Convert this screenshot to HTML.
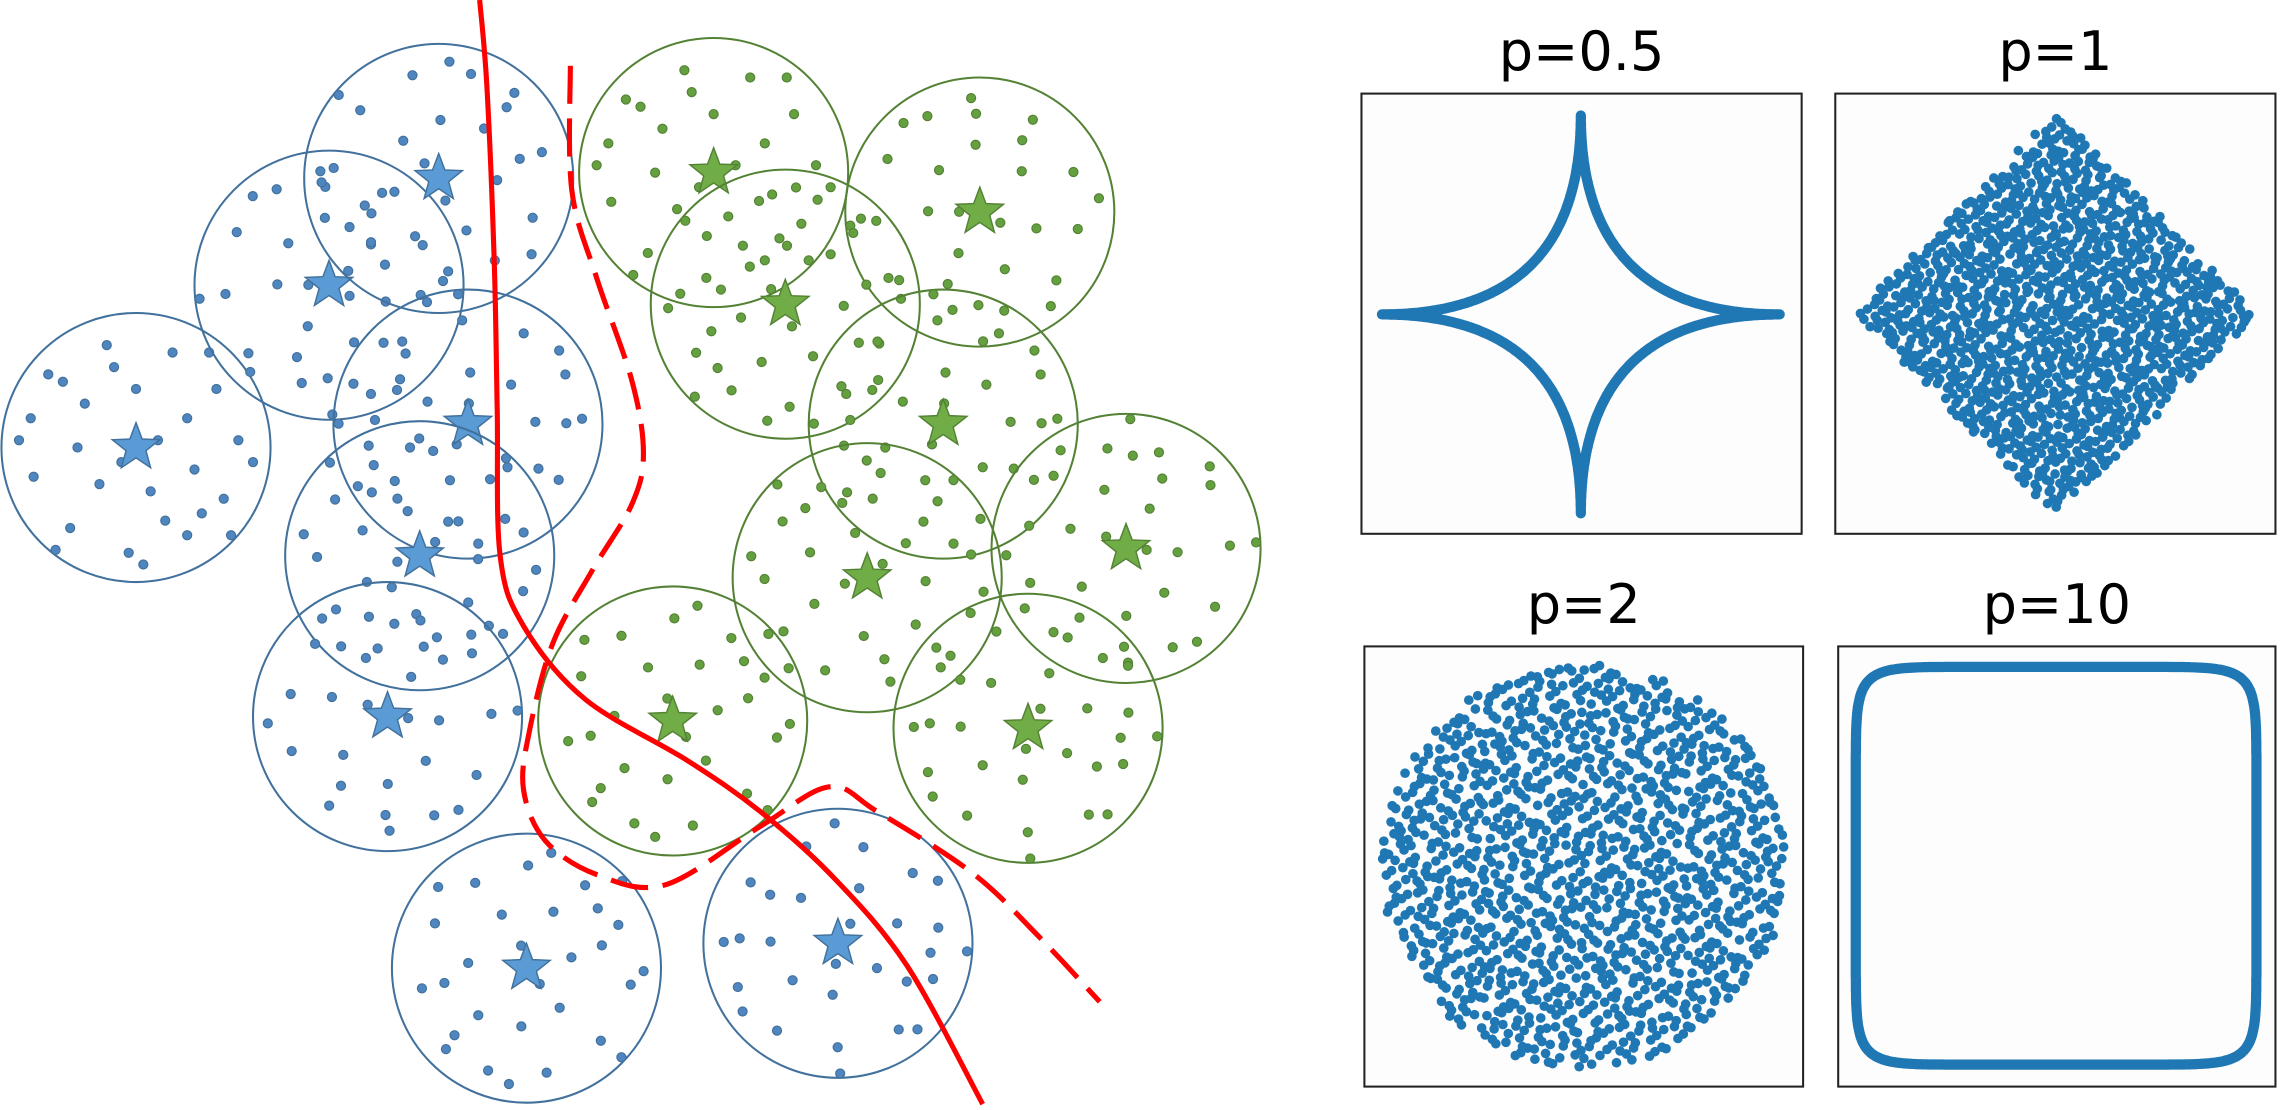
<!DOCTYPE html>
<html><head><meta charset="utf-8"><style>
html,body{margin:0;padding:0;background:#fff;}
svg{display:block;}
text{font-family:"DejaVu Sans","Liberation Sans",sans-serif;}
</style></head><body>
<svg id="fig" width="2293" height="1110" viewBox="0 0 1568 759" preserveAspectRatio="none" xmlns="http://www.w3.org/2000/svg">
<g id="left"></g>
<g id="right"></g>
</svg>
<script>
const blueCenters=[[93,306],[225,195],[300,122],[320,290],[287,380],[265,490],[360,662],[573,645]];
const greenCenters=[[488,118],[670,145],[537,208],[645,290],[593,395],[770,375],[460,493],[703,498]];
const radius=92;
const dotOffsets=[[-60,-50],[-20,-70],[25,-65],[55,-40],[70,-5],[60,35],[35,60],[-5,72],[-45,55],[-70,20],[-72,-20],[-35,-30],[0,-40],[35,-20],[40,15],[10,30],[-25,25],[-40,0],[15,-5],[-10,10],[50,-65],[-55,70],[65,60],[-80,-5],[80,10],[20,50],[-15,-55],[45,45],[-50,-45],[5,80]];
const solidPath=[[328,0],[333,60],[338,180],[340,280],[342,380],[358,428],[400,478],[470,520],[520,555],[570,600],[620,660],[672,755]];
const dashedPath=[[390,45],[391,130],[408,190],[432,260],[440,310],[432,345],[405,390],[378,440],[362,500],[358,540],[373,575],[408,598],[455,605],[520,565],[567,538],[600,555],[665,597],[710,640],[752,685]];
const panelTitles=["p=0.5","p=1","p=2","p=10"];
const panelP=[0.5,1,2,10];
const panelBoxes=[[931,64,301,301],[1255,64,301,301],[933,442,300,301],[1257,442,299,301]];
const shapeCenters=[[1081,215],[1406,215],[1083,592],[1406,592]];
const shapeRadii=[[136,136],[138,138],[138,138],[137,136]];

const NS="http://www.w3.org/2000/svg";
function mk(tag,attrs,parent){const e=document.createElementNS(NS,tag);for(const k in attrs)e.setAttribute(k,attrs[k]);parent.appendChild(e);return e;}
function star(cx,cy,R){let pts=[];for(let i=0;i<10;i++){const r=i%2?R*0.42:R;const a=-Math.PI/2+i*Math.PI/5;pts.push((cx+r*Math.cos(a)).toFixed(1)+","+(cy+r*Math.sin(a)).toFixed(1));}return pts.join(" ");}
const L=document.getElementById('left');
function cluster(centers,stroke,dotFill,starFill,name){
  centers.forEach((c,i)=>{
    const g=mk('g',{},L);
    
    
    const circ=mk('circle',{cx:c[0],cy:c[1],r:radius,fill:'none',stroke:stroke,'stroke-width':1.4},g);
    
    
    const rot=i*0.8;
    dotOffsets.forEach(o=>{
      const x=o[0]*Math.cos(rot)-o[1]*Math.sin(rot),y=o[0]*Math.sin(rot)+o[1]*Math.cos(rot);
      const d=mk('circle',{cx:c[0]+x,cy:c[1]+y,r:3.1,fill:dotFill,stroke:stroke,'stroke-width':0.8},g);
      
      
    });
    const s=mk('polygon',{points:star(c[0],c[1],17),fill:starFill,stroke:stroke,'stroke-width':1},g);
    
    
  });
}
cluster(blueCenters,'#41719c','#4f86c0','#5b9bd5','blue');
cluster(greenCenters,'#548235','#65a040','#70ad47','green');
function smooth(pts){let d='M'+pts[0][0]+','+pts[0][1];for(let i=1;i<pts.length;i++){const p0=pts[i-2]||pts[i-1],p1=pts[i-1],p2=pts[i],p3=pts[i+1]||p2;d+=' C'+(p1[0]+(p2[0]-p0[0])/6)+','+(p1[1]+(p2[1]-p0[1])/6)+' '+(p2[0]-(p3[0]-p1[0])/6)+','+(p2[1]-(p3[1]-p1[1])/6)+' '+p2[0]+','+p2[1];}return d;}
const sl=mk('path',{d:smooth(solidPath),fill:'none',stroke:'#ff0000','stroke-width':3.5},L);


const dl=mk('path',{d:smooth(dashedPath),fill:'none',stroke:'#ff0000','stroke-width':3.5,'stroke-dasharray':'26,10'},L);



const R=document.getElementById('right');
function halton(i,b){let f=1,r=0;while(i>0){f/=b;r+=f*(i%b);i=Math.floor(i/b);}return r;}
panelBoxes.forEach((b,k)=>{
  const [x,y,w,h]=b;const p=panelP[k];
  const t=mk('text',{x:x+w/2,y:y-16,'font-size':37,'text-anchor':'middle',fill:'#000'},R);
  t.textContent=panelTitles[k];
  
  
  const rect=mk('rect',{x:x,y:y,width:w,height:h,fill:'#fdfdfd',stroke:'#222','stroke-width':1.4},R);
  
  
  const [cx,cy]=shapeCenters[k],[ax,ay]=shapeRadii[k];
  const g=mk('g',{fill:'#1f77b4'},R);
  
  
  if(p===0.5||p===10){
    let d='';
    for(let i=0;i<=720;i++){const a=i/720*2*Math.PI;const c=Math.cos(a),s=Math.sin(a);
      const px=cx+ax*Math.sign(c)*Math.pow(Math.abs(c),2/p),py=cy-ay*Math.sign(s)*Math.pow(Math.abs(s),2/p);
      d+=(i?'L':'M')+px.toFixed(1)+','+py.toFixed(1);}
    const pa=mk('path',{d:d,fill:'none',stroke:'#1f77b4','stroke-width':7,'stroke-linejoin':'round','stroke-linecap':'round'},g);
    
    
  } else {
    let n=0;
    for(let i=1;n<1250&&i<6000;i++){
      const u=halton(i,2)*2-1,v=halton(i,3)*2-1;
      if(Math.pow(Math.abs(u),p)+Math.pow(Math.abs(v),p)>1)continue;
      n++;
      const d=mk('circle',{cx:(cx+u*ax).toFixed(1),cy:(cy+v*ay).toFixed(1),r:3.3},g);
      
      
    }
  }
});
</script>
</body></html>
